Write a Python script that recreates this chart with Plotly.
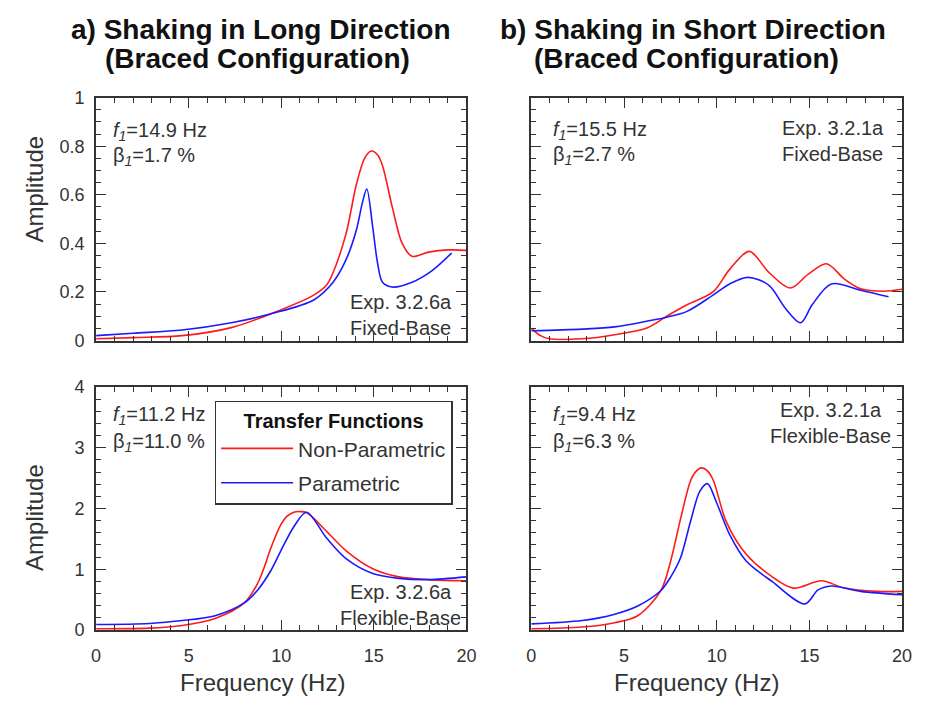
import plotly.graph_objects as go

# page is 926x715; browser body margin (8px) surrounds the figure
PAGE_W, PAGE_H, BODY_M = 926, 715, 8
W, H = PAGE_W - 2 * BODY_M, PAGE_H - 2 * BODY_M

# ---------------- data ----------------
# a) Long direction, fixed base
f_a_fix_np = [0, 2, 4.65, 7.3, 9.44, 11.75, 12.46, 12.8, 13.5, 14.05, 14.5, 14.85, 15.2, 15.47, 16.0, 16.53, 17.06, 17.95, 19.0, 20]
A_a_fix_np = [0.007, 0.012, 0.02, 0.053, 0.11, 0.187, 0.23, 0.28, 0.44, 0.64, 0.75, 0.78, 0.765, 0.72, 0.548, 0.40, 0.347, 0.364, 0.373, 0.371]
f_a_fix_p = [0, 2, 4.65, 7.3, 9.44, 11.75, 12.8, 13.5, 14.05, 14.4, 14.62, 14.94, 15.2, 15.47, 16.0, 17.06, 18.13, 19.2]
A_a_fix_p = [0.02, 0.03, 0.043, 0.073, 0.11, 0.167, 0.24, 0.333, 0.453, 0.573, 0.624, 0.467, 0.32, 0.24, 0.22, 0.24, 0.287, 0.36]

# b) Short direction, fixed base
f_b_fix_np = [0, 0.5, 0.97, 2.74, 4.5, 6.27, 7.3, 8.4, 9.8, 10.7, 11.76, 12.82, 13.97, 14.94, 15.92, 16.89, 17.77, 19.0, 20]
A_b_fix_np = [0.05, 0.02, 0.007, 0.007, 0.024, 0.053, 0.1, 0.147, 0.2, 0.293, 0.367, 0.28, 0.216, 0.273, 0.316, 0.253, 0.213, 0.203, 0.211]
f_b_fix_p = [0, 2.74, 4.5, 6.27, 7.3, 8.4, 9.8, 10.7, 11.68, 12.82, 13.7, 14.53, 15.15, 16.18, 17.77, 19.27]
A_b_fix_p = [0.04, 0.047, 0.056, 0.08, 0.096, 0.12, 0.187, 0.233, 0.26, 0.227, 0.133, 0.073, 0.147, 0.233, 0.207, 0.18]

# a) Long direction, flexible base
f_a_flex_np = [0, 2.88, 4.65, 6.43, 8.02, 8.73, 9.1, 9.44, 9.97, 10.3, 10.68, 11.0, 11.39, 12.46, 13.52, 14.94, 16.36, 17.95, 20]
A_a_flex_np = [0.02, 0.03, 0.075, 0.19, 0.45, 0.77, 1.05, 1.35, 1.73, 1.87, 1.94, 1.95, 1.93, 1.62, 1.3, 1.01, 0.875, 0.83, 0.81]
f_a_flex_p = [0, 2.88, 4.65, 6.43, 8.02, 8.73, 9.44, 9.97, 10.68, 11.36, 12.46, 13.52, 14.94, 16.36, 17.95, 20]
A_a_flex_p = [0.09, 0.107, 0.155, 0.235, 0.45, 0.66, 0.98, 1.3, 1.7, 1.94, 1.51, 1.17, 0.93, 0.85, 0.83, 0.875]

# b) Short direction, flexible base
f_b_flex_np = [0, 2.74, 4.5, 5.74, 6.99, 7.52, 8.05, 8.58, 8.85, 9.19, 9.5, 9.81, 10.52, 11.58, 13.0, 14.15, 15.65, 16.89, 18.66, 20]
A_b_flex_np = [0.02, 0.048, 0.12, 0.235, 0.65, 1.14, 1.83, 2.45, 2.6, 2.67, 2.62, 2.47, 1.78, 1.25, 0.875, 0.69, 0.81, 0.69, 0.635, 0.635]
f_b_flex_p = [0, 2.74, 4.5, 5.74, 6.99, 7.52, 8.05, 8.58, 9.1, 9.5, 9.99, 10.7, 11.58, 13.0, 14.76, 15.47, 16.18, 17.77, 20]
A_b_flex_p = [0.1, 0.155, 0.26, 0.395, 0.65, 0.875, 1.19, 1.78, 2.29, 2.41, 2.1, 1.57, 1.14, 0.795, 0.43, 0.66, 0.725, 0.635, 0.58]

panel_f1 = ["14.9", "15.5", "11.2", "9.4"]
panel_beta = ["1.7", "2.7", "11.0", "6.3"]
panel_exp = ["Exp. 3.2.6a<br>Fixed-Base", "Exp. 3.2.1a<br>Fixed-Base",
             "Exp. 3.2.6a<br>Flexible-Base", "Exp. 3.2.1a<br>Flexible-Base"]
series_names = ["Non-Parametric", "Parametric"]
titles = [["a) Shaking in Long Direction", "(Braced Configuration)"],
          ["b) Shaking in Short Direction", "(Braced Configuration)"]]

# ---------------- styling ----------------
FONT = "Liberation Sans, Arial, sans-serif"
TXT = "#333333"
RED = "#ff1a1a"
BLUE = "#1a1aff"


def px_x(p):  # page pixel -> paper fraction
    return (p - BODY_M) / W


def px_y(p):
    return 1 - (p - BODY_M) / H


# page-pixel boxes of panels (left, right, top, bottom)
boxes = [(92.5, 469, 90, 340), (535, 912, 90, 340),
         (92.5, 469, 388, 638), (535, 912, 388, 638)]

fig = go.Figure()

data = [
    (f_a_fix_np, A_a_fix_np, f_a_fix_p, A_a_fix_p),
    (f_b_fix_np, A_b_fix_np, f_b_fix_p, A_b_fix_p),
    (f_a_flex_np, A_a_flex_np, f_a_flex_p, A_a_flex_p),
    (f_b_flex_np, A_b_flex_np, f_b_flex_p, A_b_flex_p),
]

for i, (fx1, a1, fx2, a2) in enumerate(data):
    sfx = "" if i == 0 else str(i + 1)
    fig.add_trace(go.Scatter(x=fx1, y=a1, mode="lines", name=series_names[0],
                             line=dict(color=RED, width=1.6, shape="spline", smoothing=0.9),
                             xaxis="x" + sfx, yaxis="y" + sfx, showlegend=(i == 0),
                             legendgroup="np"))
    fig.add_trace(go.Scatter(x=fx2, y=a2, mode="lines", name=series_names[1],
                             line=dict(color=BLUE, width=1.6, shape="spline", smoothing=0.9),
                             xaxis="x" + sfx, yaxis="y" + sfx, showlegend=(i == 0),
                             legendgroup="p"))


def make_axis(domain, rng, dtick, mdtick, labels, anchor):
    return dict(domain=domain, range=rng, dtick=dtick, tick0=0, ticks="inside",
                ticklen=10, tickwidth=1.3, tickcolor=TXT, mirror="allticks",
                showline=True, linecolor=TXT, linewidth=2, showgrid=False,
                zeroline=False, showticklabels=labels, anchor=anchor,
                tickfont=dict(family=FONT, size=18, color=TXT),
                minor=dict(dtick=mdtick, tick0=0, ticks="inside", ticklen=5,
                           tickwidth=1.3, tickcolor=TXT, showgrid=False),
                fixedrange=True)


layout = {}
yranges = [[0, 1], [0, 1], [0, 4], [0, 4]]
ydticks = [0.2, 0.2, 1, 1]
ymdticks = [0.05, 0.05, 0.2, 0.2]
for i, (l, r, t, b) in enumerate(boxes):
    sfx = "" if i == 0 else str(i + 1)
    xd = [px_x(l), px_x(r)]
    yd = [px_y(b), px_y(t)]
    xa = make_axis(xd, [0, 20], 5, 1, i >= 2, "y" + sfx)
    xa["ticklabelstandoff"] = 8
    ya = make_axis(yd, yranges[i], ydticks[i], ymdticks[i], i in (0, 2), "x" + sfx)
    ya["ticklabelstandoff"] = 6
    layout["xaxis" + sfx] = xa
    layout["yaxis" + sfx] = ya

annotations = []
# titles
title_cx = [[260, 257], [699, 693]]
for j in range(2):
    for k, yy in enumerate([20, 50]):
        annotations.append(dict(text="<b>%s</b>" % titles[j][k], x=px_x(title_cx[j][k]), y=px_y(yy),
                                xref="paper", yref="paper", showarrow=False,
                                font=dict(family=FONT, size=28, color="#111"),
                                xanchor="center", yanchor="middle"))

# axis titles
for cy in [184, 522]:
    annotations.append(dict(text="Amplitude", x=px_x(30), y=px_y(cy), xref="paper", yref="paper",
                            showarrow=False, textangle=-90,
                            font=dict(family=FONT, size=24, color=TXT),
                            xanchor="center", yanchor="middle"))
for cx in [262, 703]:
    annotations.append(dict(text="Frequency (Hz)", x=px_x(cx), y=px_y(692), xref="paper", yref="paper",
                            showarrow=False, font=dict(family=FONT, size=24, color=TXT),
                            xanchor="center", yanchor="middle"))

# panel texts
fpos = [(108, 125, 151), (555, 124, 150), (108, 417, 445), (555, 417, 445)]
epos = [(402, 314), (842, 135), (402, 612), (839, 425)]
for i in range(4):
    x0, y1, y2 = fpos[i]
    annotations.append(dict(text="<i>f</i><sub><i>1</i></sub>=%s Hz" % panel_f1[i],
                            x=px_x(x0), y=px_y(y1), xref="paper", yref="paper",
                            showarrow=False, xanchor="left", yanchor="middle",
                            font=dict(family=FONT, size=20, color=TXT)))
    annotations.append(dict(text="β<sub><i>1</i></sub>=%s %%" % panel_beta[i],
                            x=px_x(x0), y=px_y(y2), xref="paper", yref="paper",
                            showarrow=False, xanchor="left", yanchor="middle",
                            font=dict(family=FONT, size=20, color=TXT)))
    ex, ey = epos[i]
    annotations.append(dict(text=panel_exp[i], x=px_x(ex), y=px_y(ey), xref="paper", yref="paper",
                            showarrow=False, xanchor="center", yanchor="middle", align="center",
                            font=dict(family=FONT, size=20, color=TXT)))

fig.update_layout(
    width=W, height=H, autosize=False,
    margin=dict(l=0, r=0, t=0, b=0),
    paper_bgcolor="white", plot_bgcolor="white",
    font=dict(family=FONT, color=TXT),
    annotations=annotations,
    showlegend=True,
    legend=dict(x=px_x(213), y=px_y(402), xanchor="left", yanchor="top",
                bgcolor="white", bordercolor=TXT, borderwidth=1.5,
                font=dict(family=FONT, size=21, color=TXT),
                title=dict(text="<b>Transfer Functions</b>", side="top center",
                           font=dict(family=FONT, size=20, color="#111")),
                itemwidth=72, tracegroupgap=4),
    **layout,
)

fig.write_html("out.html", config={"displayModeBar": False})
